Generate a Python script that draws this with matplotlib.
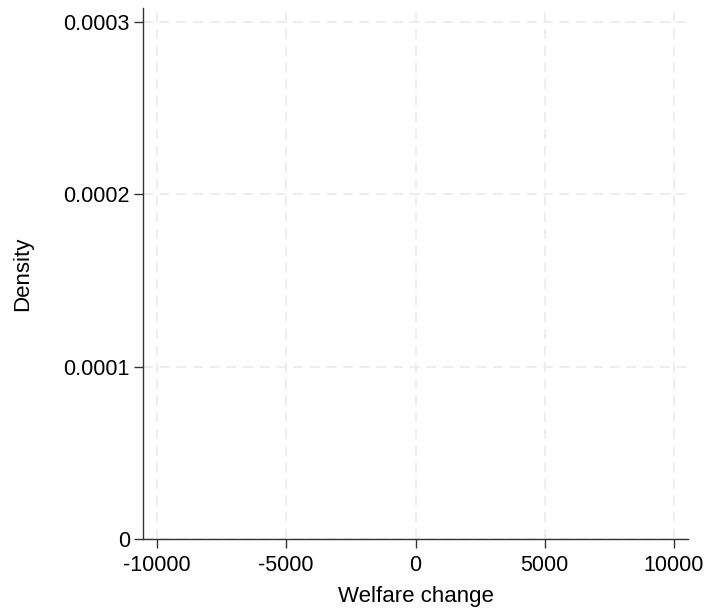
import matplotlib
matplotlib.use("Agg")
from matplotlib import pyplot as plt

# 坐标轴刻度 (图中没有可见的数据曲线)
x_ticks = [-10000, -5000, 0, 5000, 10000]
y_ticks = [0, 0.0001, 0.0002, 0.0003]
y_ticklabels = ["0", "0.0001", "0.0002", "0.0003"]

plt.rcParams['font.family'] = ['Liberation Sans', 'DejaVu Sans']
plt.rcParams['font.size'] = 15.5

fig = plt.figure(figsize=(7.09, 6.13), dpi=100)
ax = fig.add_axes([0.2017, 0.1207, 0.7687, 0.8663])

ax.set_xlim(-10540, 10540)
ax.set_ylim(0, 0.000308)
ax.set_xticks(x_ticks)
ax.set_xticklabels([str(v) for v in x_ticks])
ax.set_yticks(y_ticks)
ax.set_yticklabels(y_ticklabels)

ax.grid(True, color='#ebebeb', linestyle=(0, (6, 4)), linewidth=1.2)
ax.set_axisbelow(True)

for s in ['top', 'right']:
    ax.spines[s].set_visible(False)
for s in ['left', 'bottom']:
    ax.spines[s].set_color('#333333')
    ax.spines[s].set_linewidth(1.0)
ax.tick_params(length=6.5, width=1, color='#333333', pad=3)
ax.tick_params(axis='x', pad=5)

ax.set_xlabel('Welfare change', labelpad=7, fontsize=16)
ax.set_ylabel('Density', labelpad=22, fontsize=16)

fig.savefig('out.png', dpi=100)
